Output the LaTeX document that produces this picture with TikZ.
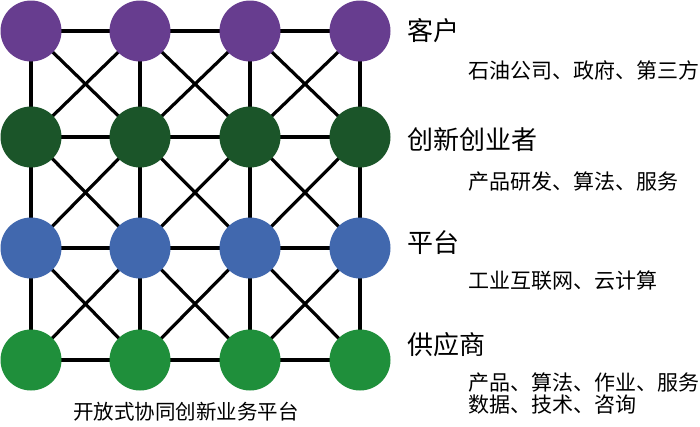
\documentclass[tikz,border=0pt]{standalone}
\usepackage{fontspec}
\setmainfont{Noto Sans CJK SC}
\usetikzlibrary{backgrounds}
\definecolor{cpurple}{HTML}{673D8F}
\definecolor{cdgreen}{HTML}{1B5529}
\definecolor{cblue}{HTML}{4168AE}
\definecolor{cgreen}{HTML}{1F8F3B}
\begin{document}
\begin{tikzpicture}[x=1pt,y=-1pt,
  dot/.style={circle,minimum size=61pt,inner sep=0pt,draw=none},
  link/.style={line width=3.2pt,black},
  titletext/.style={anchor=west,inner sep=0pt,font=\fontsize{26}{29}\selectfont},
  subtext/.style={anchor=west,inner sep=0pt,font=\fontsize{21}{24}\selectfont},
  captext/.style={inner sep=0pt,font=\fontsize{20.5}{23}\selectfont}]
\useasboundingbox (0,0) rectangle (700,426);
\foreach \c/\x in {1/31,2/140,3/250,4/360}{
  \foreach \r/\y/\col in {1/31/cpurple,2/137/cdgreen,3/248/cblue,4/360/cgreen}{
    \node[dot,fill=\col] (n\r\c) at (\x,\y) {};
  }
}
\begin{scope}[on background layer]
\foreach \r in {1,...,4}{
  \foreach \c/\d in {1/2,2/3,3/4}{
    \draw[link] (n\r\c.center) -- (n\r\d.center);
    \draw[link] (n\c\r.center) -- (n\d\r.center);
  }
}
\foreach \r/\s in {1/2,2/3,3/4}{
  \foreach \c/\d in {1/2,2/3,3/4}{
    \draw[link] (n\r\c.center) -- (n\s\d.center);
    \draw[link] (n\r\d.center) -- (n\s\c.center);
  }
}
\end{scope}
\node[titletext] (t1) at (407,31) {客户};
\node[subtext] (s1) at (468,70) {石油公司、政府、第三方};
\node[titletext] (t2) at (407,140) {创新创业者};
\node[subtext] (s2) at (468,182) {产品研发、算法、服务};
\node[titletext] (t3) at (407,243) {平台};
\node[subtext] (s3) at (468,281) {工业互联网、云计算};
\node[titletext] (t4) at (407,345) {供应商};
\node[subtext] (s4) at (468,383) {产品、算法、作业、服务};
\node[subtext] (s5) at (468,405) {数据、技术、咨询};
\node[captext] (captn) at (186,412) {开放式协同创新业务平台};
\end{tikzpicture}
\end{document}
